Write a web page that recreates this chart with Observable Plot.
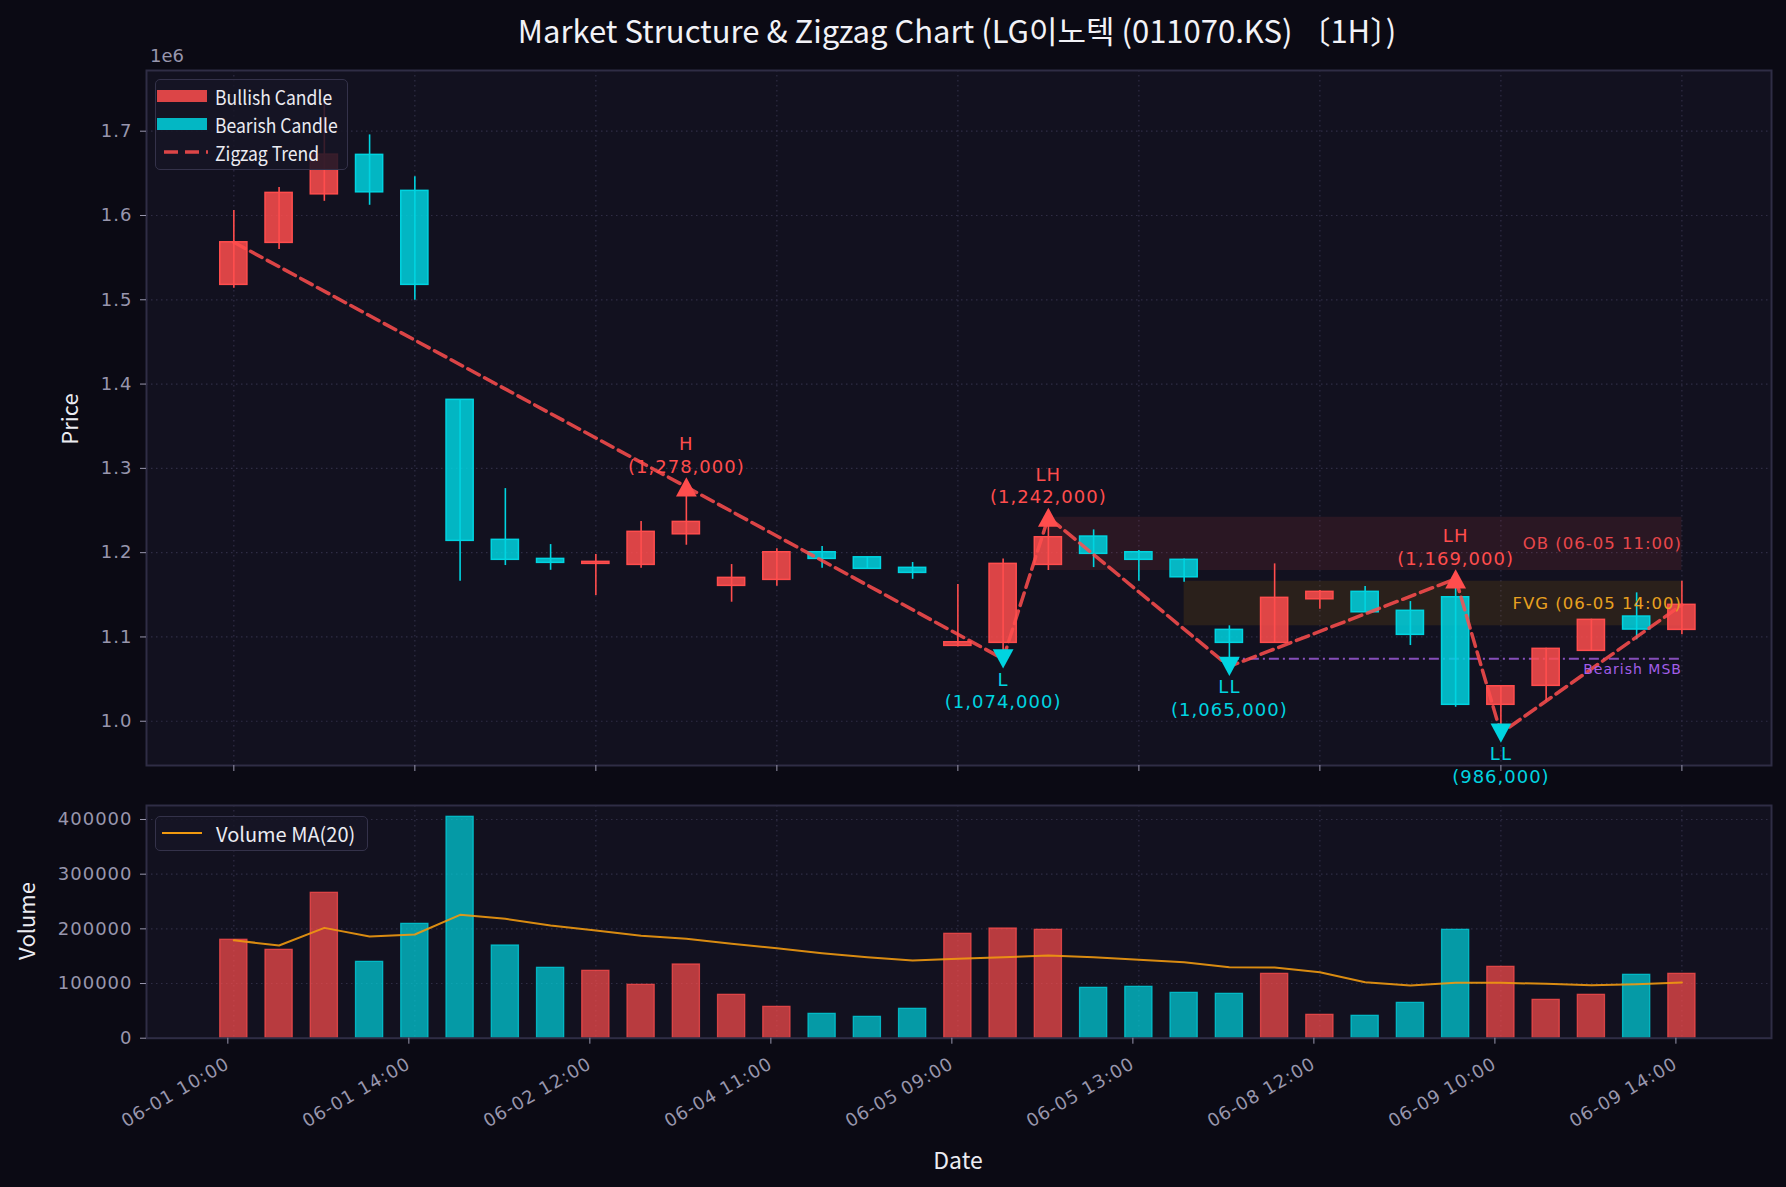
<!DOCTYPE html>
<html>
<head>
<meta charset="utf-8">
<script src="https://cdn.jsdelivr.net/npm/d3@7"></script>
<script src="https://cdn.jsdelivr.net/npm/@observablehq/plot@0.6"></script>
<style>
  html, body { margin: 0; padding: 0; background: #0b0a14; }
  #chart { position: relative; width: 1786px; height: 1187px; background: #0b0a14; overflow: hidden;
           font-family: "Noto Sans CJK KR", "Noto Sans", sans-serif; }
  #chart svg { position: absolute; left: 0; }
  #chart svg text { letter-spacing: 1px; }
  .lbl { position: absolute; white-space: nowrap; line-height: 1; }
  .legend { position: absolute; box-sizing: border-box; background: rgba(22, 21, 38, 0.85);
            border: 1.5px solid #34324a; border-radius: 5px; }
  .legend .row { position: absolute; left: 0; right: 0; height: 0; }
  .legend .txt { position: absolute; transform: translateY(-50%) scaleX(0.9); transform-origin: 0 50%;
                 color: #ececf2; font-size: 19.5px; white-space: nowrap; }
  .legend .txt.wide { transform: translateY(-50%); font-size: 20px; }
</style>
</head>
<body>
<div id="chart"></div>
<script>
// LG Innotek (011070.KS), hourly candles
const openPrice  = [1517700, 1567500, 1625100, 1671900, 1629200, 1381300, 1215200, 1192600, 1186700, 1185500, 1221800,
                    1160600, 1167700, 1200500, 1194500, 1182000, 1089400, 1093000, 1185500, 1219100, 1200500, 1191500,
                    1108400, 1093000, 1144700, 1153500, 1131000, 1147100, 1019500, 1042000, 1083500, 1124200, 1108400];
const highPrice  = [1605800, 1633100, 1734000, 1695600, 1646100, 1381300, 1276000, 1209600, 1197700, 1236900, 1278000,
                    1185900, 1204500, 1207200, 1195000, 1188300, 1162200, 1192600, 1242000, 1227000, 1202500, 1192500,
                    1113200, 1186700, 1155000, 1159800, 1142000, 1169000, 1042000, 1086500, 1121000, 1152300, 1166100];
const lowPrice   = [1513600, 1559500, 1616800, 1612100, 1499400, 1166100, 1184700, 1179100, 1149100, 1181500, 1208800,
                    1141200, 1160100, 1181500, 1180000, 1168400, 1088000, 1074000, 1178800, 1182300, 1166100, 1164900,
                    1065000, 1092500, 1132900, 1129000, 1089800, 1016600,  986000, 1023700, 1083000, 1096600, 1102500];
const closePrice = [1568200, 1626800, 1672200, 1627500, 1517700, 1214000, 1191500, 1187900, 1189100, 1224700, 1236500,
                    1170100, 1200500, 1192600, 1180800, 1176000, 1093700, 1186700, 1218300, 1198600, 1191500, 1170800,
                    1093000, 1146400, 1153500, 1129300, 1102500, 1019500, 1041500, 1085900, 1120300, 1108800, 1138100];
const volume     = [180000, 161600, 265900, 139600, 209100, 404900, 169500, 128700, 123200, 97600, 134800,
                    79300, 57300, 44500, 39000, 53700, 190900, 200600, 198200, 92100, 93900, 82900,
                    81100, 117700, 42700, 40900, 64600, 198200, 130500, 70100, 79300, 115900, 117700];
const volumeMA20 = [179000, 169500, 201800, 186000, 189600, 225600, 218300, 206000, 197000, 187200, 181700,
                    172600, 164600, 155500, 148200, 142000, 145100, 148200, 151200, 148200, 143300, 139000,
                    129900, 129300, 120700, 102400, 96300, 101200, 101200, 99400, 97000, 98800, 101800];

// date axis: every 4th bar is labelled
const tickIndex  = [0, 4, 8, 12, 16, 20, 24, 28, 32];
const tickLabels = ["06-01 10:00", "06-01 14:00", "06-02 12:00", "06-04 11:00", "06-05 09:00",
                    "06-05 13:00", "06-08 12:00", "06-09 10:00", "06-09 14:00"];
const priceTicks  = [1000000, 1100000, 1200000, 1300000, 1400000, 1500000, 1600000, 1700000];
const volumeTicks = [0, 100000, 200000, 300000, 400000];

// swing points of the zigzag
const pivotIndex = [10, 17, 18, 22, 27, 28];
const pivotLabel = ["H", "L", "LH", "LL", "LH", "LL"];
const pivotKind  = ["high", "low", "high", "low", "high", "low"];

// order block, fair value gap and market structure break
const obIndex  = 18, obLabel  = "OB (06-05 11:00)";
const fvgIndex = 21, fvgLabel = "FVG (06-05 14:00)";
const msbFrom  = 22, msbSwing = 17, msbLabel = "Bearish MSB";

const BULL = "#ff4d4d", BEAR = "#00d4e0", FVGC = "#ffa500", MSBC = "#9b59d6", MAC = "#f0990f";
const FACE = "#12111f", GRID = "#2f2d45", EDGE = "#2f2d45", TICK = "#9896ad";
const fontNum = '"DejaVu Sans", sans-serif';
const fontUI = '"Noto Sans CJK KR", "Noto Sans", sans-serif';

const last = openPrice.length - 1;
const candles = openPrice.map((o, i) => ({
  i, open: o, high: highPrice[i], low: lowPrice[i], close: closePrice[i],
  volume: volume[i], ma: volumeMA20[i], up: closePrice[i] >= o
}));
const pivots = pivotIndex.map((i, k) => ({
  i, label: pivotLabel[k], kind: pivotKind[k],
  price: pivotKind[k] === "high" ? highPrice[i] : lowPrice[i]
}));
const zigzag = [{i: 0, price: closePrice[0]}, ...pivots.map(p => ({i: p.i, price: p.price})), {i: last, price: closePrice[last]}];
const zones = [
  {start: obIndex, end: last, low: lowPrice[obIndex], high: highPrice[obIndex], color: BULL, text: "#e8474b", label: obLabel},
  {start: fvgIndex, end: last, low: highPrice[fvgIndex + 1], high: lowPrice[fvgIndex - 1], color: FVGC, text: "#e9a020", label: fvgLabel}
];
const msb = [{start: msbFrom, end: last, level: lowPrice[msbSwing], label: msbLabel}];

const fmt = d3.format(",");
const tickName = new Map(tickIndex.map((t, k) => [t, tickLabels[k]]));
const xDomain = [-1.93, 33.98];
const colorOf = d => d.up ? BULL : BEAR;

// triangle markers centred on their bounding box
const triUp = {draw(ctx, size) { const r = Math.sqrt(size / Math.PI), w = 1.3 * r, h = 1.2 * r;
  ctx.moveTo(0, -h); ctx.lineTo(w, h); ctx.lineTo(-w, h); ctx.closePath(); }};
const triDown = {draw(ctx, size) { const r = Math.sqrt(size / Math.PI), w = 1.3 * r, h = 1.2 * r;
  ctx.moveTo(0, h); ctx.lineTo(w, -h); ctx.lineTo(-w, -h); ctx.closePath(); }};

const gridStyle = {stroke: GRID, strokeOpacity: 1, strokeWidth: 1.2, strokeDasharray: "1.5,3.5"};
const plotStyle = {background: "transparent", color: TICK, fontFamily: fontNum, fontSize: "18px", overflow: "visible"};

const highs = pivots.filter(p => p.kind === "high");
const lows = pivots.filter(p => p.kind === "low");

const pricePlot = Plot.plot({
  width: 1786, height: 800,
  marginLeft: 146, marginRight: 15, marginTop: 70, marginBottom: 35,
  style: plotStyle,
  x: {domain: xDomain},
  y: {domain: [947500, 1772000]},
  marks: [
    Plot.frame({fill: FACE}),
    Plot.gridY(priceTicks, gridStyle),
    Plot.gridX(tickIndex, gridStyle),
    Plot.rect(zones, {x1: "start", x2: "end", y1: "low", y2: "high", fill: "color", fillOpacity: 0.1}),
    Plot.ruleY(msb, {y: "level", x1: "start", x2: "end", stroke: MSBC, strokeWidth: 2, strokeOpacity: 0.85, strokeDasharray: "10,4,2,4"}),
    Plot.ruleX(candles, {x: "i", y1: "low", y2: "high", stroke: colorOf, strokeWidth: 1.6}),
    Plot.rect(candles, {x1: d => d.i - 0.3, x2: d => d.i + 0.3, y1: "open", y2: "close",
                        fill: colorOf, fillOpacity: 0.85, stroke: colorOf, strokeWidth: 1.5}),
    Plot.line(zigzag, {x: "i", y: "price", stroke: BULL, strokeOpacity: 0.85, strokeWidth: 3.5, strokeDasharray: "13,6"}),
    Plot.dot(highs, {x: "i", y: "price", symbol: triUp, r: 8, fill: BULL}),
    Plot.dot(lows, {x: "i", y: "price", symbol: triDown, r: 8, fill: BEAR}),
    Plot.text(highs, {x: "i", y: "price", text: d => `${d.label}\n(${fmt(d.price)})`, lineAnchor: "bottom", dy: -14,
                      lineHeight: 1.25, fill: BULL, fontSize: 18, fontFamily: fontNum}),
    Plot.text(lows, {x: "i", y: "price", text: d => `${d.label}\n(${fmt(d.price)})`, lineAnchor: "top", dy: 11,
                     lineHeight: 1.25, fill: BEAR, fontSize: 18, fontFamily: fontNum}),
    Plot.text(zones, {x: "end", y: d => (d.low + d.high) / 2, text: "label", textAnchor: "end", fill: "text",
                      fontSize: 16.5, fontFamily: fontNum}),
    Plot.text(msb, {x: "end", y: "level", dy: 11, text: "label", textAnchor: "end", fill: "#a35ee8",
                    fontSize: 14, fontFamily: fontNum}),
    Plot.frame({stroke: EDGE, strokeWidth: 2}),
    Plot.axisY(priceTicks, {tickFormat: d => (d / 1e6).toFixed(1), tickSize: 6, tickPadding: 8, label: null}),
    Plot.axisX(tickIndex, {tickFormat: () => "", tickSize: 6, label: null})
  ]
});
pricePlot.style.top = "0px";

const volumePlot = Plot.plot({
  width: 1786, height: 387,
  marginLeft: 146, marginRight: 15, marginTop: 5, marginBottom: 149.3,
  style: plotStyle,
  x: {domain: xDomain},
  y: {domain: [0, 425600]},
  marks: [
    Plot.frame({fill: FACE}),
    Plot.gridY(volumeTicks.slice(1), gridStyle),
    Plot.gridX(tickIndex, gridStyle),
    Plot.rect(candles, {x1: d => d.i - 0.3, x2: d => d.i + 0.3, y1: 0, y2: "volume",
                        fill: colorOf, fillOpacity: 0.7, stroke: colorOf, strokeOpacity: 0.75, strokeWidth: 1.3}),
    Plot.line(candles, {x: "i", y: "ma", stroke: MAC, strokeWidth: 2, strokeOpacity: 0.9}),
    Plot.frame({stroke: EDGE, strokeWidth: 2}),
    Plot.axisY(volumeTicks, {tickFormat: d3.format("d"), tickSize: 6, tickPadding: 8, label: null}),
    Plot.axisX(tickIndex, {tickFormat: t => tickName.get(t), tickSize: 6, tickPadding: 18, tickRotate: -30,
                           textAnchor: "end", lineAnchor: "middle", dx: -6, label: null})
  ]
});
volumePlot.style.top = "800px";

const chart = document.getElementById("chart");
chart.append(pricePlot, volumePlot);

function label(text, x, y, css, rotate = 0) {
  const el = document.createElement("div");
  el.className = "lbl";
  el.textContent = text;
  el.style.left = x + "px";
  el.style.top = y + "px";
  el.style.transform = `translate(-50%, -50%) rotate(${rotate}deg)`;
  Object.assign(el.style, css);
  chart.append(el);
}

label("Market Structure & Zigzag Chart (LG이노텍 (011070.KS) 〔1H〕)", 957, 29,
      {fontSize: "31px", color: "#f2f2f7", fontFamily: fontUI});
label("1e6", 167, 56, {fontSize: "18px", color: TICK, fontFamily: fontNum});
label("Price", 68, 419, {fontSize: "22px", color: "#ececf2", fontFamily: fontUI}, -90);
label("Volume", 25, 921, {fontSize: "22px", color: "#ececf2", fontFamily: fontUI}, -90);
label("Date", 958, 1159, {fontSize: "23px", color: "#ececf2", fontFamily: fontUI});

// legends
function legend(left, top, width, height, rows, wide = false) {
  const box = document.createElement("div");
  box.className = "legend";
  Object.assign(box.style, {left: left + "px", top: top + "px", width: width + "px", height: height + "px"});
  rows.forEach(r => {
    const row = document.createElement("div");
    row.className = "row";
    row.style.top = r.y + "px";
    const key = document.createElement("div");
    key.style.position = "absolute";
    key.innerHTML = r.key;
    row.append(key);
    const txt = document.createElement("div");
    txt.className = wide ? "txt wide" : "txt";
    txt.style.left = r.textX + "px";
    txt.textContent = r.text;
    row.append(txt);
    box.append(row);
  });
  chart.append(box);
}
const patch = c => `<div style="position:absolute;left:1px;top:-6px;width:50px;height:12px;background:${c};opacity:0.85"></div>`;
legend(155, 79, 193, 91, [
  {y: 16, key: patch(BULL), text: "Bullish Candle", textX: 59},
  {y: 44, key: patch(BEAR), text: "Bearish Candle", textX: 59},
  {y: 72, key: `<svg width="50" height="8" style="position:absolute;left:6px;top:-4px;overflow:visible">
                  <line x1="2" y1="4" x2="46" y2="4" stroke="${BULL}" stroke-opacity="0.85" stroke-width="3.5" stroke-dasharray="14,7"/></svg>`,
   text: "Zigzag Trend", textX: 59}
]);
legend(155, 816, 213, 35, [
  {y: 16, key: `<svg width="50" height="8" style="position:absolute;left:6px;top:-4px;overflow:visible">
                  <line x1="0" y1="4" x2="40" y2="4" stroke="${MAC}" stroke-width="2"/></svg>`,
   text: "Volume MA(20)", textX: 60}
], true);
</script>
</body>
</html>
